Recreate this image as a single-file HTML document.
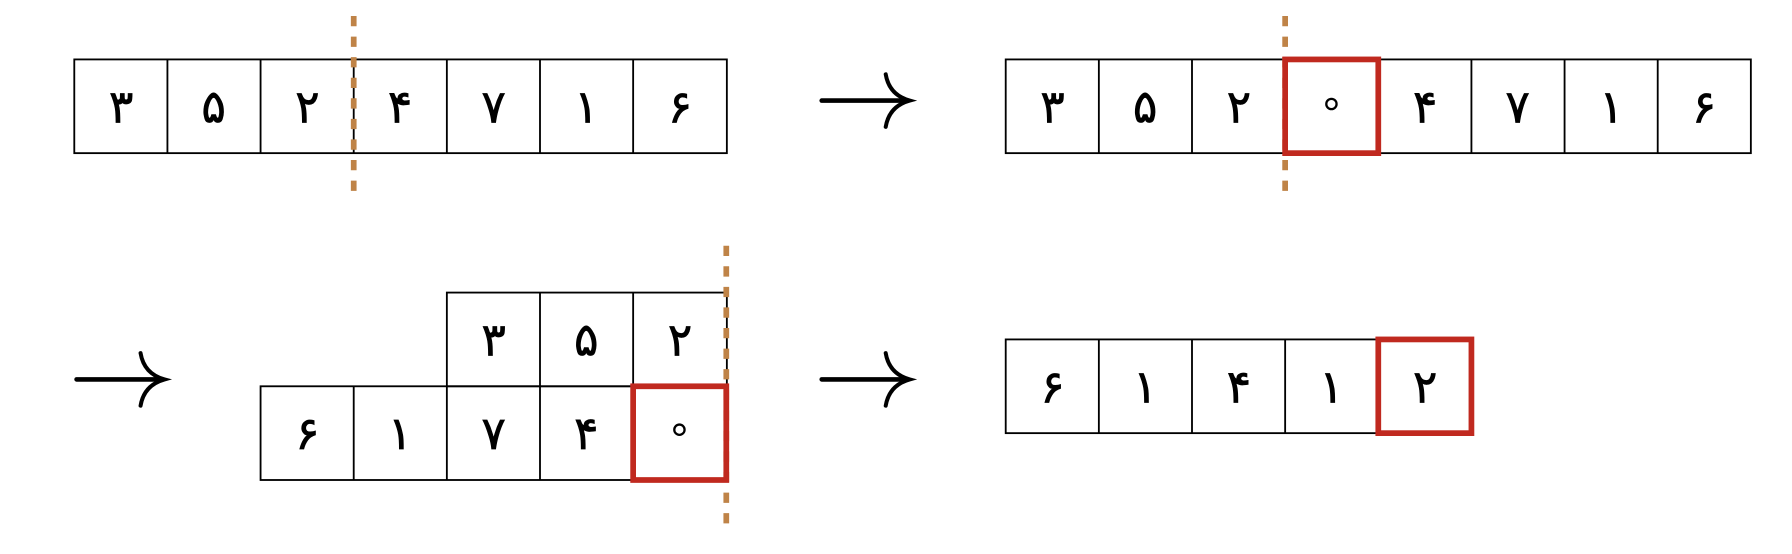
<!DOCTYPE html>
<html><head><meta charset="utf-8"><style>
html,body{margin:0;padding:0;background:#fff;}
svg{display:block;}
text{font-family:"DejaVu Sans","Liberation Sans",sans-serif;font-size:40px;font-weight:normal;fill:#000;stroke:#000;stroke-width:0.6;text-anchor:middle;}
</style></head><body>
<svg width="1792" height="554" viewBox="0 0 1568 484.75" xmlns="http://www.w3.org/2000/svg">
<defs>
<g id="arr"><path d="M0,0 H74" stroke="#000" stroke-width="4" fill="none" stroke-linecap="round"/><path d="M56,-23 Q59,-5 77,0 Q59,5 56,23" stroke="#000" stroke-width="3.5" fill="none" stroke-linecap="round"/></g>
</defs>
<g fill="none" stroke="#000" stroke-width="1.6">
<rect x="65" y="52" width="571" height="82"/>
<path d="M146.5,52V134M228,52V134M309.5,52V134M391,52V134M472.5,52V134M554,52V134"/>
<rect x="880" y="52" width="652" height="82"/>
<path d="M961.5,52V134M1043,52V134M1124.5,52V134M1206,52V134M1287.5,52V134M1369,52V134M1450.5,52V134"/>
<rect x="391" y="256" width="245" height="82"/>
<path d="M472.5,256V338M554,256V338"/>
<rect x="228" y="338" width="408" height="82"/>
<path d="M309.5,338V420M391,338V420M472.5,338V420M554,338V420"/>
<rect x="880" y="297" width="408" height="82"/>
<path d="M961.5,297V379M1043,297V379M1124.5,297V379M1206,297V379"/>
</g>
<g fill="none" stroke="#bf8347" stroke-width="5" stroke-dasharray="9,9">
<path d="M309.5,14V176"/>
<path d="M1124.5,14V176"/>
<path d="M635.5,215V462"/>
</g>
<g fill="none" stroke="#c0291f" stroke-width="5">
<rect x="1124.5" y="52" width="81.5" height="82"/>
<rect x="554" y="338" width="81.5" height="82"/>
<rect x="1206" y="297" width="81.5" height="82"/>
</g>
<g fill="none" stroke="#000" stroke-width="2">
<circle cx="1165" cy="91" r="4.5"/>
<circle cx="594.5" cy="376" r="4.5"/>
</g>
<use href="#arr" x="719" y="88"/>
<use href="#arr" x="67" y="332"/>
<use href="#arr" x="719" y="332"/>
<g>
<text x="106" y="107">۳</text><text x="187" y="107">۵</text><text x="269" y="107">۲</text><text x="350" y="107">۴</text><text x="432" y="107">۷</text><text x="513" y="107">۱</text><text x="595" y="107">۶</text>
<text x="921" y="107">۳</text><text x="1002" y="107">۵</text><text x="1084" y="107">۲</text><text x="1247" y="107">۴</text><text x="1328" y="107">۷</text><text x="1410" y="107">۱</text><text x="1491" y="107">۶</text>
<text x="432" y="311">۳</text><text x="513" y="311">۵</text><text x="595" y="311">۲</text>
<text x="269" y="393">۶</text><text x="350" y="393">۱</text><text x="432" y="393">۷</text><text x="513" y="393">۴</text>
<text x="921" y="352">۶</text><text x="1002" y="352">۱</text><text x="1084" y="352">۴</text><text x="1165" y="352">۱</text><text x="1247" y="352">۲</text>
</g>
</svg>
</body></html>
